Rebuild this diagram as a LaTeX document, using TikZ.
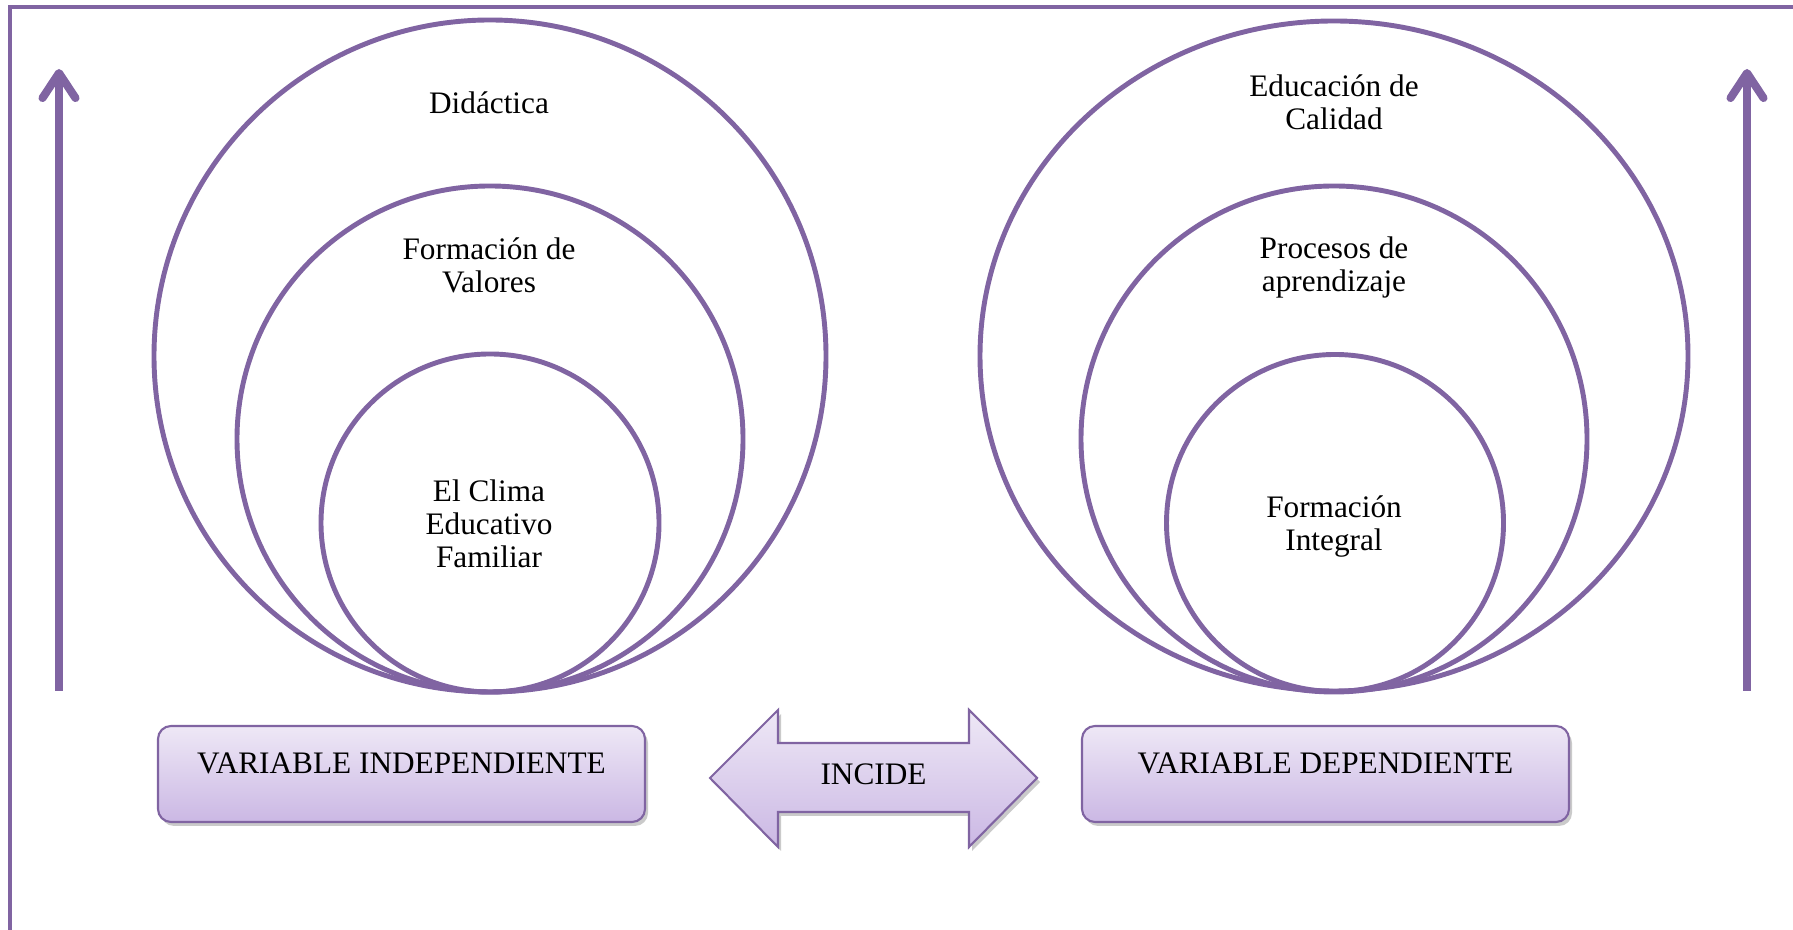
\documentclass[tikz,border=0pt]{standalone}
\usepackage{fontspec}
\setmainfont{Liberation Serif}
\usetikzlibrary{arrows.meta,shapes.geometric,shadows}
\definecolor{lila}{HTML}{8064A2}
\definecolor{lilaclaro}{HTML}{EEE8F6}
\definecolor{lilaoscuro}{HTML}{CBB8E4}
\tikzset{
    texto/.style={align=center,font=\fontsize{8.9}{9.4}\selectfont},
    caja/.style={draw=lila,line width=0.6pt,rounded corners=0.13cm,
        top color=lilaclaro,bottom color=lilaoscuro,
        minimum width=4.87cm,minimum height=0.96cm,
        text height=0.2cm,text depth=0.2cm,
        drop shadow={shadow xshift=0.03cm,shadow yshift=-0.04cm,opacity=0.35,fill=black!60}},
    flecha/.style={lila,line width=2.3pt,-{Straight Barb[round,length=0.25cm,width=0.33cm]}}
}

\begin{document}
\begin{tikzpicture}
            \useasboundingbox (0,0) rectangle (17.93,9.30);
            \draw[lila,line width=1.4pt] (0.10,0) -- (0.10,9.23) -- (17.93,9.23);
            \begin{scope}[every node/.style={circle,draw=lila,line width=1.4pt,inner sep=0pt}]
                \node (i1) [minimum size=6.72cm] at (4.90,5.74) {};
                \node (i2) [minimum size=5.06cm] at (4.90,4.91) {};
                \node (i3) [minimum size=3.38cm] at (4.90,4.07) {};
                \node (d1) [ellipse,minimum width=7.08cm,minimum height=6.70cm] at (13.34,5.74) {};
                \node (d2) [minimum size=5.06cm] at (13.34,4.91) {};
                \node (d3) [minimum size=3.37cm] at (13.35,4.07) {};
            \end{scope}
            \begin{scope}[every node/.style={texto}]
                \node (ti1) at (4.89,8.27) {Didáctica};
                \node (ti2) at (4.89,6.65) {Formación de\\Valores};
                \node (ti3) at (4.89,4.06) {El Clima\\Educativo\\Familiar};
                \node (td1) at (13.34,8.28) {Educación de\\Calidad};
                \node (td2) at (13.34,6.625) {Procesos de\\aprendizaje};
                \node (td3) at (13.34,4.035) {Formación\\Integral};
            \end{scope}
            \coordinate (a1) at (0.59,2.39);
            \coordinate (a2) at (0.59,8.61);
            \coordinate (b1) at (17.47,2.39);
            \coordinate (b2) at (17.47,8.61);
            \draw[flecha] (a1) -- (a2);
            \draw[flecha] (b1) -- (b2);
            \node (vi) [caja,texto] at (4.015,1.56) {VARIABLE INDEPENDIENTE};
            \node (vd) [caja,texto] at (13.255,1.56) {VARIABLE DEPENDIENTE};
            \draw[draw=lila,line width=0.6pt,top color=lilaclaro,bottom color=lilaoscuro,
                drop shadow={shadow xshift=0.03cm,shadow yshift=-0.04cm,opacity=0.35,fill=black!60}]
                (7.10,1.52) -- (7.78,2.20) -- (7.78,1.87) -- (9.69,1.87) -- (9.69,2.20) -- (10.37,1.52)
                -- (9.69,0.83) -- (9.69,1.18) -- (7.78,1.18) -- (7.78,0.83) -- cycle;
            \node (inc) [texto,text height=0.2cm,text depth=0.2cm] at (8.735,1.45) {INCIDE};
\end{tikzpicture}
\end{document}
